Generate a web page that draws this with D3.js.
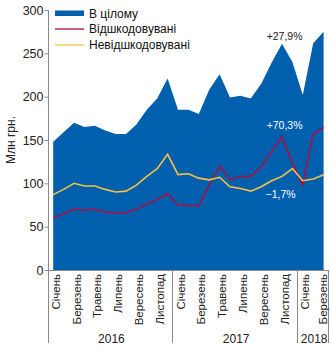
<!DOCTYPE html>
<html><head><meta charset="utf-8">
<script src="https://cdn.jsdelivr.net/npm/d3@7"></script>
<style>body{margin:0;background:#fff}svg{display:block;font-family:"Liberation Sans",Arial,sans-serif}</style>
</head><body><svg id="c" width="331" height="348"></svg>
<script>
const monthLabels = ["Січень","","Березень","","Травень","","Липень","","Вересень","","Листопад","",
  "Січень","","Березень","","Травень","","Липень","","Вересень","","Листопад","",
  "Січень","","Березень"];
const years = [{label:"2016",start:0,count:12},{label:"2017",start:12,count:12},{label:"2018",start:24,count:3}];
const total = [148,159,170,165,166.5,161,157,157,168,185,198,221,185,185,180,208,226,199,201,198,215,239,261,240,202,261.5,275];
const reimbursed = [60,65,70,69,70,67,66,66,70,76,81.5,88,75,74,74,98,120,104.6,108,108,119,136.5,154,123,98,157,164.6];
const nonReimbursed = [87,93,100,97,97,93,90,91,98,108,117,133.5,110,111,106,104,107,96,94,91,96,103,108,117,103,105,110];
const yTicks = [0,50,100,150,200,250,300];
const seriesNames = ["В цілому","Відшкодовувані","Невідшкодовувані"];
const annotations = [{text:"+27,9%",i:26,color:"#222"},{text:"+70,3%",i:26,color:"#fff"},{text:"\u22121,7%",i:26,color:"#fff"}];

const colBlue="#0060AE", colRed="#B50A3F", colYellow="#F7C242", axisCol="#8a8a8a";
const svg=d3.select("#c");
const idx=d3.range(total.length);
const x=d3.scaleBand().domain(idx).range([48,328.8]).padding(0);
const px=i=>x(i)+x.bandwidth()/2;
const y=d3.scaleLinear().domain([0,300]).range([270,10]);

// area
svg.append("path").datum(idx)
  .attr("d",d3.area().x(i=>px(i)).y0(y(0)).y1(i=>y(total[i])))
  .attr("fill",colBlue);
const line=arr=>d3.line().x(i=>px(i)).y(i=>y(arr[i]));
svg.append("path").datum(idx).attr("d",line(reimbursed)).attr("fill","none").attr("stroke",colRed).attr("stroke-width",1.5);
svg.append("path").datum(idx).attr("d",line(nonReimbursed)).attr("fill","none").attr("stroke",colYellow).attr("stroke-width",1.6);

// y axis
const ya=svg.append("g").attr("transform","translate(48.5,0)")
  .call(d3.axisLeft(y).tickValues(yTicks).tickSize(4).tickPadding(1));
ya.select(".domain").remove();
ya.selectAll("line").attr("stroke",axisCol);
ya.selectAll("text").attr("font-size",12.5).attr("fill","#222").attr("font-family","Liberation Sans, Arial");
svg.append("line").attr("x1",48.5).attr("x2",48.5).attr("y1",y(300)).attr("y2",343).attr("stroke",axisCol);
// x axis
svg.append("line").attr("x1",48).attr("x2",328.8).attr("y1",270.5).attr("y2",270.5).attr("stroke",axisCol);
const bounds=[12,24,27];
bounds.forEach(b=>{
  const xx=Math.round(x(b-1)+x.bandwidth())-0.5;
  svg.append("line").attr("x1",xx).attr("x2",xx).attr("y1",270).attr("y2",343).attr("stroke",axisCol);
});
svg.append("g").selectAll("text").data(idx.filter(i=>monthLabels[i])).join("text")
  .attr("transform",i=>`translate(${Math.min(px(i)+2.5,322.5)},274) rotate(-90)`)
  .attr("text-anchor","end").attr("dy","0.35em").attr("font-size",11.5).attr("fill","#222")
  .text(i=>monthLabels[i]);
svg.append("g").selectAll("text").data(years).join("text")
  .attr("x",d=>(x(d.start)+x(d.start+d.count-1)+x.bandwidth())/2+1)
  .attr("y",343).attr("text-anchor","middle").attr("font-size",12).attr("fill","#222")
  .text(d=>d.label);
svg.append("text").attr("transform","translate(14.5,140) rotate(-90)").attr("text-anchor","middle")
  .attr("font-size",12).attr("fill","#222").text("Млн грн.");

// legend
const lg=svg.append("g");
lg.append("rect").attr("x",55).attr("y",10.5).attr("width",29).attr("height",5.5).attr("fill",colBlue);
lg.append("line").attr("x1",55).attr("x2",84).attr("y1",29).attr("y2",29).attr("stroke",colRed).attr("stroke-width",1.3);
lg.append("line").attr("x1",55).attr("x2",84).attr("y1",45).attr("y2",45).attr("stroke",colYellow).attr("stroke-width",1.3);
[17.5,33,49].forEach((yy,k)=>lg.append("text").attr("x",89).attr("y",yy).attr("font-size",12).attr("fill","#111").text(seriesNames[k]));

// annotations
const annPos=[{dx:-39,y:40},{dx:-39,y:129},{dx:-43,y:198}];
svg.append("g").selectAll("text").data(annotations).join("text")
  .attr("x",(d,k)=>px(d.i)+annPos[k].dx).attr("y",(d,k)=>annPos[k].y)
  .attr("text-anchor","middle").attr("font-size",10.5).attr("fill",d=>d.color).text(d=>d.text);
</script></body></html>
